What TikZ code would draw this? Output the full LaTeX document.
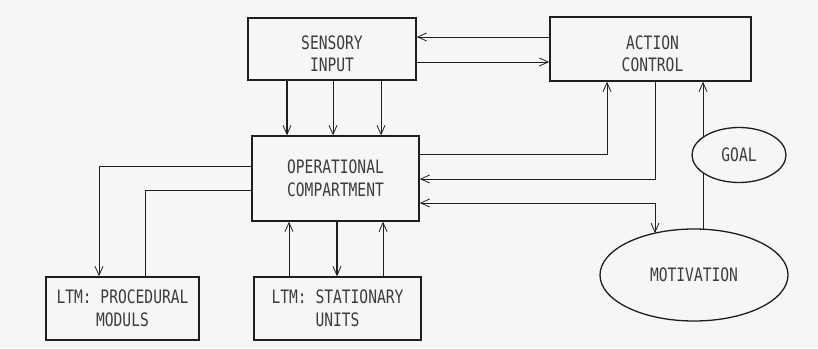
\documentclass[tikz,border=0pt]{standalone}
\usepackage{fontspec}
\setmonofont{DejaVu Sans Mono}[FakeStretch=0.79]
\usetikzlibrary{arrows.meta,shapes.geometric}
\definecolor{bg}{RGB}{246,246,246}
\definecolor{ink}{RGB}{30,30,30}
\definecolor{txt}{RGB}{60,60,60}
\tikzset{
  lbl/.style={font=\ttfamily\fontsize{18.5}{22.5}\selectfont,text=txt,align=center,inner sep=0pt},
  box/.style={draw=ink,line width=1.4pt,rectangle,inner sep=0pt,lbl},
  oval/.style={draw=ink,line width=1.3pt,ellipse,inner sep=0pt,lbl},
  conn/.style={draw=ink,line width=0.8pt},
  arr/.style={conn,-{Straight Barb[length=9pt,width=8pt,line width=0.8pt]}},
  darr/.style={conn,{Straight Barb[length=9pt,width=8pt,line width=0.8pt]}-{Straight Barb[length=9pt,width=8pt,line width=0.8pt]}},
  thick arr/.style={arr,line width=1.4pt}
}
\begin{document}
\begin{tikzpicture}[x=1pt,y=-1pt]
\fill[bg] (0,0) rectangle (818,348);
\useasboundingbox (0,0) rectangle (818,348);
% nodes
\node[box,minimum width=168pt,minimum height=62pt] (sens) at (332,49) {};
\node[lbl] (senst) at ([yshift=-5pt]sens.center) {SENSORY\\INPUT};
\node[box,minimum width=201pt,minimum height=64pt] (act) at (650.5,49) {};
\node[lbl] (actt) at ([xshift=2pt,yshift=-5pt]act.center) {ACTION\\CONTROL};
\node[box,minimum width=167pt,minimum height=85pt] (op) at (335.5,178.5) {OPERATIONAL\\COMPARTMENT};
\node[box,minimum width=153pt,minimum height=63pt] (proc) at (122.5,308.5) {LTM: PROCEDURAL\\MODULS};
\node[box,minimum width=167pt,minimum height=63pt] (stat) at (337.5,308.5) {LTM: STATIONARY\\UNITS};
\node[oval,minimum width=94pt,minimum height=55pt] (goal) at (739,155) {GOAL};
\node[oval,minimum width=188pt,minimum height=92pt] (mot) at (694,275) {MOTIVATION};
% helper coordinates
\coordinate (c1) at (607,154);
\coordinate (c2) at (655,179);
\coordinate (c3) at (655,203);
\coordinate (m1) at (655,233);
\coordinate (m2) at (703,229.5);
\coordinate (g1) at (703,173);
\coordinate (g2) at (703,137);
\coordinate (p1) at (99,166);
\coordinate (p2) at (145,190);
% sensory <-> action
\draw[arr] (act.west |- 0,37) -- (sens.east |- 0,37);
\draw[arr] (sens.east |- 0,62) -- (act.west |- 0,62);
% sensory -> op
\draw[thick arr] (sens.south -| 287,0) -- (op.north -| 287,0);
\draw[arr] (sens.south -| 333,0) -- (op.north -| 333,0);
\draw[arr] (sens.south -| 381,0) -- (op.north -| 381,0);
% op -> action
\draw[arr] (op.east |- c1) -- (c1) -- (act.south -| c1);
% action -> op
\draw[arr] (act.south -| c2) -- (c2) -- (op.east |- c2);
% op <-> motivation
\draw[darr] (op.east |- c3) -- (c3) -- (m1);
% motivation -> goal -> action
\draw[conn] (m2) -- (g1);
\draw[arr] (g2) -- (act.south -| g2);
% op -> procedural
\draw[arr] (op.west |- p1) -- (p1) -- (proc.north -| p1);
% procedural -> op
\draw[conn] (proc.north -| p2) -- (p2) -- (op.west |- p2);
% stationary <-> op
\draw[arr] (stat.north -| 289,0) -- (op.south -| 289,0);
\draw[thick arr] (op.south -| 337,0) -- (stat.north -| 337,0);
\draw[arr] (stat.north -| 383,0) -- (op.south -| 383,0);
\end{tikzpicture}
\end{document}
